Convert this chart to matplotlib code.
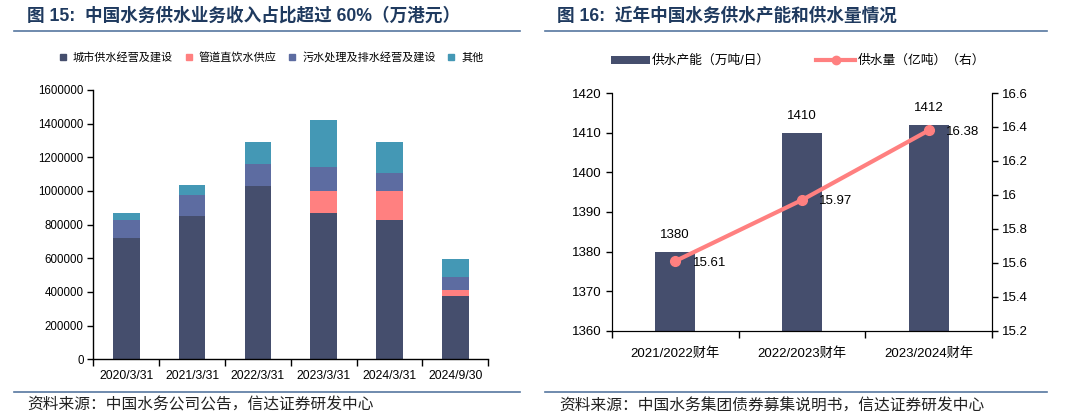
import matplotlib
matplotlib.use("Agg")
import matplotlib.pyplot as plt
from matplotlib.lines import Line2D
from matplotlib.patches import Patch
import numpy as np

plt.rcParams['font.family'] = ['Liberation Sans', 'Noto Sans CJK SC', 'DejaVu Sans']

# ---- Data: left chart ----
periods = ["2020/3/31", "2021/3/31", "2022/3/31", "2023/3/31", "2024/3/31", "2024/9/30"]
city_supply = [720000, 852000, 1032000, 871000, 828000, 377000]
direct_drink = [0, 0, 0, 131000, 173000, 36000]
sewage = [108000, 123000, 127000, 139000, 105000, 77000]
other = [42000, 60000, 135000, 278000, 183000, 103000]
left_series_names = ["城市供水经营及建设", "管道直饮水供应", "污水处理及排水经营及建设", "其他"]
left_yticks = [0, 200000, 400000, 600000, 800000, 1000000, 1200000, 1400000, 1600000]

# ---- Data: right chart ----
years = ["2021/2022财年", "2022/2023财年", "2023/2024财年"]
capacity = [1380, 1410, 1412]
volume = [15.61, 15.97, 16.38]
right_names = ["供水产能（万吨/日）", "供水量（亿吨）（右）"]
cap_ticks = [1360, 1370, 1380, 1390, 1400, 1410, 1420]
vol_ticks = [15.2, 15.4, 15.6, 15.8, 16.0, 16.2, 16.4, 16.6]
vol_ticklabels = ["15.2", "15.4", "15.6", "15.8", "16", "16.2", "16.4", "16.6"]

title_left = "图 15:  中国水务供水业务收入占比超过 60%（万港元）"
title_right = "图 16:  近年中国水务供水产能和供水量情况"
src_left = "资料来源：中国水务公司公告，信达证券研发中心"
src_right = "资料来源：中国水务集团债券募集说明书，信达证券研发中心"

c_dark = "#454E6D"
c_pink = "#FF8080"
c_purple = "#5D6CA1"
c_teal = "#4498B5"
c_title = "#1F3A5F"
c_rule = "#5677A0"

W, H = 1080, 417
fig = plt.figure(figsize=(W / 100, H / 100), dpi=100)

def fx(px):
    return px / W

def fy(py):
    return 1 - py / H

# ---------- Left chart ----------
axl = fig.add_axes([fx(93.3), fy(359.3), fx(488.3 - 93.3), (359.3 - 90.0) / H])
x = np.arange(len(periods))
bw = 0.405
bottom = np.zeros(len(periods))
for vals, col in zip([city_supply, direct_drink, sewage, other], [c_dark, c_pink, c_purple, c_teal]):
    axl.bar(x, vals, bw, bottom=bottom, color=col, edgecolor='none')
    bottom += np.array(vals)
axl.set_xlim(-0.5, len(periods) - 0.5)
axl.set_ylim(0, 1600000)
axl.set_yticks(left_yticks)
axl.set_yticklabels([str(v) for v in left_yticks], fontsize=8.3)
axl.set_xticks(x)
axl.set_xticklabels(periods, fontsize=8.8)
axl.set_xticks(np.arange(-0.5, len(periods)), minor=True)
axl.tick_params(axis='x', which='major', length=0, pad=8)
axl.tick_params(axis='x', which='minor', length=5, width=1, direction='out')
axl.tick_params(axis='y', length=4, width=1, direction='out', pad=3)
for s in ['top', 'right']:
    axl.spines[s].set_visible(False)
for s in ['left', 'bottom']:
    axl.spines[s].set_linewidth(1.0)
    axl.spines[s].set_color('black')

handles_l = [Line2D([], [], marker='s', linestyle='none', markersize=5, color=c)
             for c in [c_dark, c_pink, c_purple, c_teal]]
fig.legend(handles_l, left_series_names, loc='center', bbox_to_anchor=(fx(271), fy(57)),
           ncol=4, frameon=False, fontsize=8, handlelength=0.8, handletextpad=0.5,
           columnspacing=1.0)

# ---------- Right chart ----------
axr = fig.add_axes([fx(611.7), fy(330.8), fx(992.2 - 611.7), (330.8 - 93.0) / H])
xr = np.arange(len(years))
axr.bar(xr, capacity, 0.316, color=c_dark, edgecolor='none', zorder=2)
axr.set_xlim(-0.5, len(years) - 0.5)
axr.set_ylim(1360, 1420)
axr.set_yticks(cap_ticks)
axr.set_yticklabels([str(v) for v in cap_ticks], fontsize=9.5)
axr.set_xticks(xr)
axr.set_xticklabels(years, fontsize=9.5)
axr.set_xticks(np.arange(-0.5, len(years)), minor=True)
axr.tick_params(axis='x', which='major', length=0, pad=12)
axr.tick_params(axis='x', which='minor', length=5, width=1, direction='out')
axr.tick_params(axis='y', length=4, width=1, direction='out', pad=3)
axr.spines['top'].set_visible(False)
for i, v in enumerate(capacity):
    axr.annotate(str(v), (xr[i], v), xytext=(0, 12), textcoords='offset points',
                 ha='center', va='center', fontsize=9.5)

axr2 = axr.twinx()
axr2.plot(xr, volume, color=c_pink, linewidth=3, marker='o', markersize=7, zorder=3)
axr2.set_ylim(15.2, 16.6)
axr2.set_yticks(vol_ticks)
axr2.set_yticklabels(vol_ticklabels, fontsize=9.5)
axr2.tick_params(axis='y', length=4, width=1, direction='out', pad=3)
axr2.spines['top'].set_visible(False)
for i, v in enumerate(volume):
    axr2.annotate(f"{v:.2f}", (xr[i], v), xytext=(12.5, -1), textcoords='offset points',
                  ha='left', va='center', fontsize=9.5)

handles_r = [Patch(facecolor=c_dark, edgecolor='none'),
             Line2D([], [], color=c_pink, linewidth=3, marker='o', markersize=6)]
fig.legend(handles_r, right_names, loc='center', bbox_to_anchor=(fx(798), fy(61)),
           ncol=2, frameon=False, fontsize=9.2, handlelength=3.0, handleheight=0.6,
           handletextpad=0.2, columnspacing=3.6)

# ---------- Titles, rules, sources ----------
fig.text(fx(27), fy(16), title_left, fontsize=12.7, fontweight='bold', color=c_title,
         ha='left', va='center')
fig.text(fx(557), fy(16), title_right, fontsize=12.7, fontweight='bold', color=c_title,
         ha='left', va='center')
for x0, x1 in [(14, 520), (545, 1047)]:
    fig.add_artist(Line2D([fx(x0), fx(x1)], [fy(31), fy(31)], color=c_rule, linewidth=1.2))
    fig.add_artist(Line2D([fx(x0), fx(x1)], [fy(392), fy(392)], color=c_rule, linewidth=1.2))
fig.text(fx(27.5), fy(405), src_left, fontsize=11.3, color='#222222', ha='left', va='center')
fig.text(fx(559), fy(405), src_right, fontsize=11.3, color='#222222', ha='left', va='center')

fig.savefig("out.png", dpi=100)
